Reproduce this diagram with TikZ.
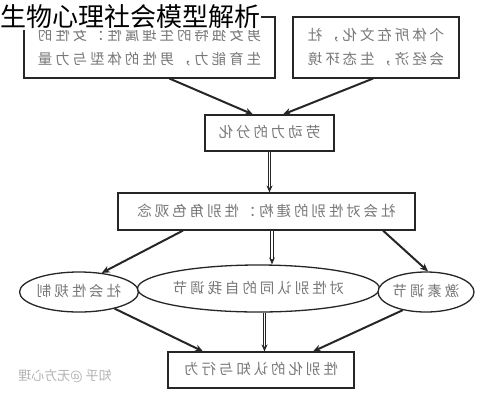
\documentclass[tikz,border=0pt]{standalone}
\usepackage{fontspec}
\usepackage{graphicx}
\usepackage{tikz}
\usetikzlibrary{arrows.meta, shapes.geometric, calc}
\newfontfamily\cjk{Noto Sans CJK SC}
\newfontfamily\cjkwide[LetterSpace=20]{Noto Sans CJK SC}
\definecolor{ink}{gray}{0.15}
\definecolor{txt}{gray}{0.47}
% mirrored label text, as printed in the picture
\newcommand{\flip}[1]{\reflectbox{\begin{tabular}{@{}c@{}}#1\end{tabular}}}

\begin{document}
\begin{tikzpicture}[
    x=1pt, y=-1pt,
    box/.style={
        draw=ink, line width=1.1pt, fill=white, inner sep=0pt,
        text=txt, font=\cjkwide\fontsize{14.5}{24}\selectfont
    },
    oval/.style={
        ellipse, draw=ink, line width=1.3pt, fill=white, inner sep=0pt,
        text=txt, font=\cjkwide\fontsize{14.5}{24}\selectfont
    },
    link/.style={draw=ink, line width=2pt, -{Stealth[length=8pt,width=7pt]}},
    dlink/.style={draw=ink, line width=0.9pt, double, double distance=1.6pt,
        -{Stealth[length=7pt,width=6pt]}}
]

% ---- Fixed frame of the picture ----
\useasboundingbox (0,0) rectangle (492,400);

% ---- Top row: the two sources ----
\node[box, minimum width=251pt, minimum height=61pt] (bio) at (149.5,47.5)
     {\flip{男女独特的生理属性：女性的\\ 生育能力，男性的体型与力量}};
\node[box, minimum width=166pt, minimum height=61pt] (eco) at (376,47.5)
     {\flip{个体所在文化，社\\ 会经济，生态环境}};

% ---- Title, laid over the left box ----
\node[fill=white, inner sep=1pt, font=\cjk\fontsize{26}{28}\selectfont] (title)
     at (130,17) {生物心理社会模型解析};

% ---- Middle chain ----
\node[box, minimum width=129pt, minimum height=36pt] (labor) at (269.5,133)
     {\flip{劳动力的分化}};
\node[box, minimum width=297pt, minimum height=37pt] (role) at (266.5,211.5)
     {\flip{社会对性别的建构：性别角色观念}};

% ---- The three regulators ----
\node[oval, minimum width=118pt, minimum height=40pt] (norm) at (79,292)
     {\flip{社会性规制}};
\node[oval, minimum width=209pt, minimum height=47pt] (ident) at (258.5,288.5)
     {\flip{对性别认同的自我调节}};
\node[oval, minimum width=96pt, minimum height=40pt] (horm) at (426,292)
     {\flip{激素调节}};

% ---- Outcome ----
\node[box, minimum width=186pt, minimum height=36pt] (behav) at (261,370)
     {\flip{性别化的认知与行为}};

% ---- Watermark ----
\node[text=black!30, font=\cjk\fontsize{13}{15}\selectfont] (mark) at (65,376)
     {\reflectbox{知乎 @无方心理}};

% ---- Connectors ----
\draw[link] ([xshift=20pt]bio.south) -- ([xshift=-16.5pt]labor.north);
\draw[link] ([xshift=-3pt]eco.south) -- ([xshift=13.5pt]labor.north);
\draw[dlink] (labor.south) -- (labor.south |- role.north);
\draw[link] ([xshift=-83.5pt]role.south) -- (norm.40);
\draw[dlink] ([xshift=5.5pt]role.south) -- ([xshift=5.5pt]role.south |- ident.north);
\draw[link] ([xshift=116.5pt]role.south) -- ([xshift=2pt]horm.north);
\draw[link] (norm.-25) -- ([xshift=-58pt]behav.north);
\draw[dlink] ([xshift=6pt]ident.south) -- ([xshift=6pt]ident.south |- behav.north);
\draw[link] (horm.218) -- ([xshift=52pt]behav.north);

\end{tikzpicture}
\end{document}
